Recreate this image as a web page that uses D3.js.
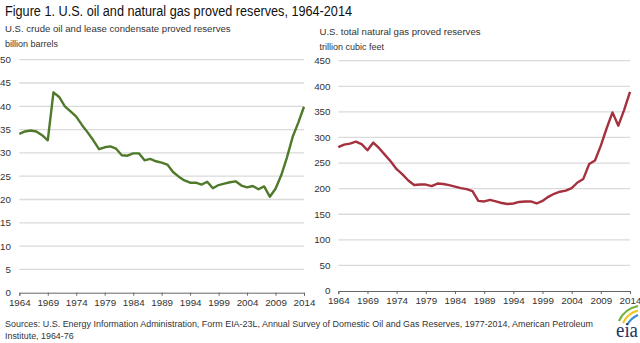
<!DOCTYPE html>
<html>
<head>
<meta charset="utf-8">
<script src="https://cdn.jsdelivr.net/npm/d3@7/dist/d3.min.js"></script>
<style>
  html, body { margin: 0; padding: 0; background: #fff; }
  svg { display: block; font-family: "Liberation Sans", Arial, sans-serif; }
</style>
</head>
<body>
<svg id="chart" width="640" height="343"></svg>
<script>
// Years 1964-2014
const years = d3.range(1964, 2015);

// U.S. crude oil and lease condensate proved reserves, billion barrels
const oilReserves = [
  34.1, 34.6, 34.8, 34.6, 33.8, 32.7, 43.0, 42.0, 40.0, 38.9,
  37.8, 36.0, 34.4, 32.7, 30.8, 31.2, 31.4, 30.9, 29.5, 29.4,
  29.9, 29.9, 28.4, 28.7, 28.2, 27.9, 27.5, 25.9, 24.9, 24.1,
  23.6, 23.6, 23.2, 23.8, 22.4, 23.1, 23.4, 23.7, 23.9, 23.0,
  22.6, 22.9, 22.2, 22.8, 20.6, 22.3, 25.2, 29.0, 33.4, 36.5,
  39.9
];

// U.S. total natural gas proved reserves, trillion cubic feet
const gasReserves = [
  281, 286, 288, 292, 287, 275, 290, 279, 266, 253,
  238, 228, 216, 207, 208, 208, 205, 210, 209, 207,
  204, 201, 199, 195, 176, 175, 178, 175, 172, 170,
  171, 174, 175, 175, 171, 176, 184, 190, 194, 196,
  201, 212, 219, 248, 255, 284, 318, 349, 323, 354,
  389
];

const xTicks = [1964, 1969, 1974, 1979, 1984, 1989, 1994, 1999, 2004, 2009, 2014];
const oilTicks = [0, 5, 10, 15, 20, 25, 30, 35, 40, 45, 50];
const gasTicks = [0, 50, 100, 150, 200, 250, 300, 350, 400, 450];

const svg = d3.select("#chart");
const textColor = "#333";

svg.append("text")
  .attr("x", 5).attr("y", 16)
  .attr("font-size", 14).attr("fill", "#111")
  .attr("textLength", 347).attr("lengthAdjust", "spacingAndGlyphs")
  .text("Figure 1. U.S. oil and natural gas proved reserves, 1964-2014");

function panel(opts) {
  const x = d3.scaleLinear().domain([1964, 2014]).range([opts.x0, opts.x1]);
  const y = d3.scaleLinear().domain([0, opts.max]).range([opts.y0, opts.y1]);
  const g = svg.append("g");

  g.append("text")
    .attr("x", opts.titleX).attr("y", opts.titleY)
    .attr("font-size", 9.6).attr("fill", textColor)
    .text(opts.title);
  g.append("text")
    .attr("x", opts.titleX).attr("y", opts.unitY)
    .attr("font-size", 9).attr("fill", textColor)
    .text(opts.unit);

  // horizontal gridlines
  g.selectAll(".grid").data(opts.yTicks.filter(d => d > 0)).join("line")
    .attr("x1", opts.x0).attr("x2", opts.x1)
    .attr("y1", d => y(d)).attr("y2", d => y(d))
    .attr("stroke", "#dadada").attr("stroke-width", 1.3);

  // y tick labels
  g.selectAll(".ylab").data(opts.yTicks).join("text")
    .attr("x", opts.labelX).attr("y", d => y(d)).attr("dy", "0.35em")
    .attr("text-anchor", "end").attr("font-size", 9.8).attr("fill", textColor)
    .text(d => d);

  // bottom axis
  const axis = g.append("g").attr("transform", `translate(0,${opts.y0})`)
    .call(d3.axisBottom(x).tickValues(xTicks).tickFormat(d3.format("d"))
      .tickSize(3).tickPadding(3));
  axis.select(".domain").attr("stroke", "#666").attr("stroke-width", 1);
  axis.selectAll(".tick line").attr("stroke", "#666");
  axis.selectAll("text").attr("font-size", 9.8).attr("fill", textColor)
    .attr("font-family", "Liberation Sans, Arial, sans-serif");

  const line = d3.line().x((d, i) => x(years[i])).y(d => y(d));
  g.append("path").datum(opts.values)
    .attr("d", line).attr("fill", "none")
    .attr("stroke", opts.color).attr("stroke-width", 2.4)
    .attr("stroke-linejoin", "round");
}

panel({
  x0: 19.3, x1: 304, y0: 292.7, y1: 59.7, max: 50,
  yTicks: oilTicks, values: oilReserves, color: "#4e7a2a",
  labelX: 11, titleX: 5, titleY: 31.5, unitY: 46.5,
  title: "U.S. crude oil and lease condensate proved reserves",
  unit: "billion barrels"
});

panel({
  x0: 338.3, x1: 630, y0: 291, y1: 60.7, max: 450,
  yTicks: gasTicks, values: gasReserves, color: "#a5313f",
  labelX: 330.5, titleX: 319.5, titleY: 34.5, unitY: 50,
  title: "U.S. total natural gas proved reserves",
  unit: "trillion cubic feet"
});

// source note
const src = svg.append("text").attr("font-size", 8.9).attr("fill", textColor);
src.append("tspan").attr("x", 5).attr("y", 327)
  .attr("textLength", 588).attr("lengthAdjust", "spacingAndGlyphs")
  .text("Sources: U.S. Energy Information Administration, Form EIA-23L, Annual Survey of Domestic Oil and Gas Reserves, 1977-2014, American Petroleum");
src.append("tspan").attr("x", 5).attr("y", 339)
  .text("Institute, 1964-76");

// eia logo
const logo = svg.append("g").attr("transform", "translate(612,304)");
logo.append("path").attr("d", "M7,17 Q12,5 26,2").attr("fill", "none")
  .attr("stroke", "#6fb43f").attr("stroke-width", 2.2);
logo.append("path").attr("d", "M11,19 Q16,9 26,6.5").attr("fill", "none")
  .attr("stroke", "#f2c318").attr("stroke-width", 2);
logo.append("path").attr("d", "M15,21 Q19,14 26,11").attr("fill", "none")
  .attr("stroke", "#3a8fd0").attr("stroke-width", 2);
logo.append("text").attr("x", 4).attr("y", 33)
  .attr("font-family", "Liberation Serif, serif").attr("font-size", 20)
  .attr("textLength", 22).attr("lengthAdjust", "spacingAndGlyphs")
  .attr("fill", "#1d355e").text("eia");
</script>
</body>
</html>
